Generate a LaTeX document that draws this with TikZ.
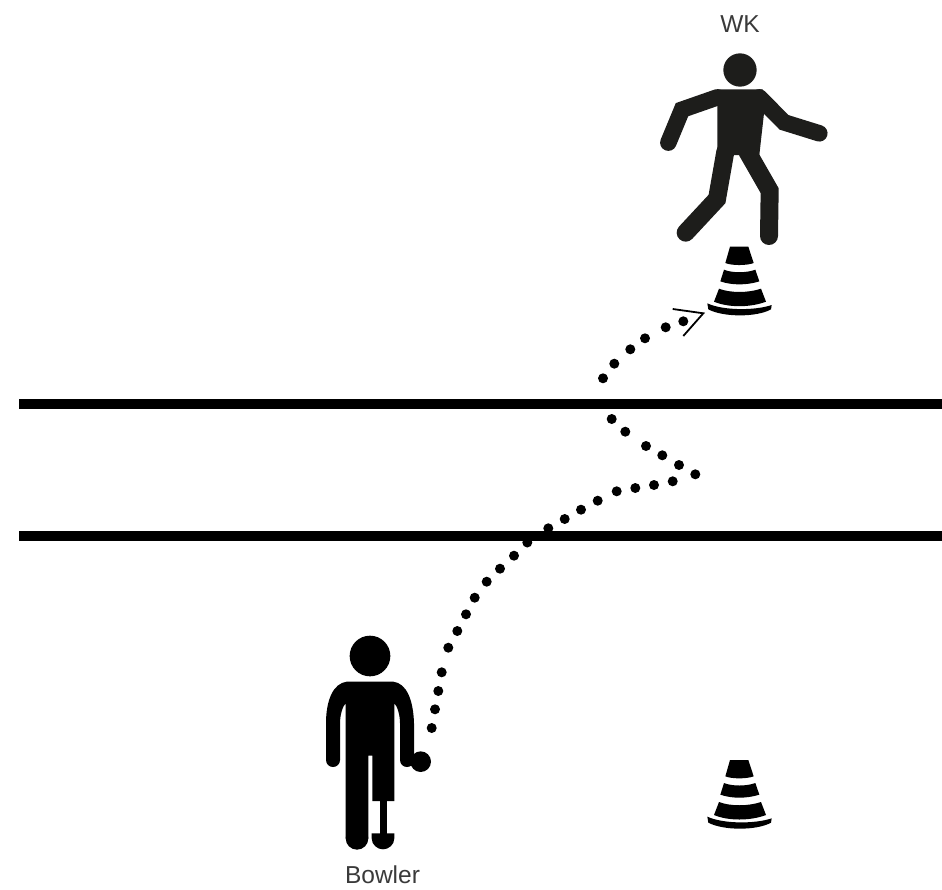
\documentclass[tikz,border=0pt]{standalone}
\usepackage{fontspec}
\setmainfont{Liberation Sans}
\definecolor{wkblack}{HTML}{1D1D1B}
\definecolor{labelgray}{HTML}{3A3A3A}
\tikzset{
  fieldline/.style={draw=black,line width=10pt},
  balldot/.style={fill=black},
  limb/.style={draw=wkblack,line cap=round,line join=miter},
  figlabel/.style={text=labelgray,font=\fontsize{24.5}{26}\selectfont,inner sep=0pt,anchor=base},
  arrowchevron/.style={draw=black,line width=1.8pt,line join=miter,line cap=butt},
}
\newcommand{\conefig}{%
  \fill[black] (120,30)--(175,30)--(191,79) .. controls (170,87) and (125,87) .. (106,79) -- cycle;
  \fill[black] (102,99) .. controls (125,109) and (170,109) .. (196,99) -- (208,134) .. controls (170,146) and (125,146) .. (91,134) -- cycle;
  \fill[black] (87,156) .. controls (120,169) and (175,169) .. (213,156) -- (228,195) .. controls (180,213) and (115,213) .. (72,195) -- cycle;
  \fill[black] (52,200) .. controls (100,222) and (195,222) .. (245,205) -- (243,218) .. controls (200,242) and (100,242) .. (55,218) -- cycle;
}
\begin{document}
\begin{tikzpicture}[x=1pt,y=-1pt]
\useasboundingbox (0,0) rectangle (942,889);
% field lines
\coordinate (l1a) at (19,404); \coordinate (l1b) at (942,404);
\coordinate (l2a) at (19,535.5); \coordinate (l2b) at (942,535.5);
\draw[fieldline] (l1a) -- (l1b);
\draw[fieldline] (l2a) -- (l2b);
% ball path
\foreach \p in {(431.7,728),(435,709.3),(438.3,691),(441.7,672.3),(448.3,647.7),(457.3,631),(466,614.3),(474.7,597.7),(486.7,581.7),(500,568.7),(514,555.7),(527.3,542.5),(548.3,528.3),(564.7,519),(581,509.7),(597.7,500.7),(616.7,491.3),(635.3,488),(654,485),(672.7,481.3),(695.3,474.3),(679,465),(662.3,455.3),(646,446),(625.3,431.7),(611.7,419),(603,378.3),(614.3,363.7),(630.3,349.3),(645,338.3),(665.7,327.3),(683.3,321.3)}
  \fill[balldot] \p circle[radius=5pt];
\coordinate (chevA) at (672.7,309);
\coordinate (chevTip) at (703.3,313.3);
\coordinate (chevB) at (683.3,336);
\draw[arrowchevron] (chevA) -- (chevTip) -- (chevB);
% WK figure
\begin{scope}[shift={(640,0)},scale=1/3]
  \fill[wkblack] (300,210) circle[radius=50pt];
  \fill[wkblack] (232,268) -- (368,268) -- (372,340) -- (358,465) -- (232,465) -- cycle;
  \draw[limb,line width=16.5pt] (232,292) -- (126,329) -- (85,428);
  \draw[limb,line width=16.5pt] (358,292) -- (432,367) -- (538,400);
  \draw[limb,line width=18pt] (256,455) -- (231,597) -- (137,698);
  \draw[limb,line width=18pt] (322,455) -- (389,572) -- (387,708);
\end{scope}
% cones
\begin{scope}[shift={(690,236.7)},scale=1/3]\conefig\end{scope}
\begin{scope}[shift={(690,750)},scale=1/3]\conefig\end{scope}
% Bowler figure
\begin{scope}[shift={(300,620)},scale=1/3]
  \fill[black] (210,108) circle[radius=61pt];
  \fill[black] (140,185) -- (280,185) .. controls (320,190) and (340,240) .. (342,310) -- (342,420) -- (300,420) -- (300,310) .. controls (300,285) and (292,258) .. (283,250) -- (283,543) -- (217,543) -- (217,407) -- (205,407) -- (205,655) -- (137,655) -- (137,250) .. controls (128,258) and (120,285) .. (120,310) -- (120,420) -- (78,420) -- (78,310) .. controls (78,240) and (100,190) .. (140,185) -- cycle;
  \fill[black] (99,420) circle[radius=21pt];
  \fill[black] (321,420) circle[radius=21pt];
  \fill[black] (171,655) circle[radius=34pt];
  \fill[black] (362,425) circle[radius=31pt];
  \fill[black] (240,543) rectangle (260,645);
  \fill[black] (215,640) -- (283,640) -- (283,655) .. controls (283,675) and (265,688) .. (249,688) .. controls (233,688) and (215,675) .. (215,655) -- cycle;
\end{scope}
% labels
\node[figlabel] (wk) at (740,32) {WK};
\node[figlabel] (bowler) at (382.5,883.5) {Bowler};
\end{tikzpicture}
\end{document}
